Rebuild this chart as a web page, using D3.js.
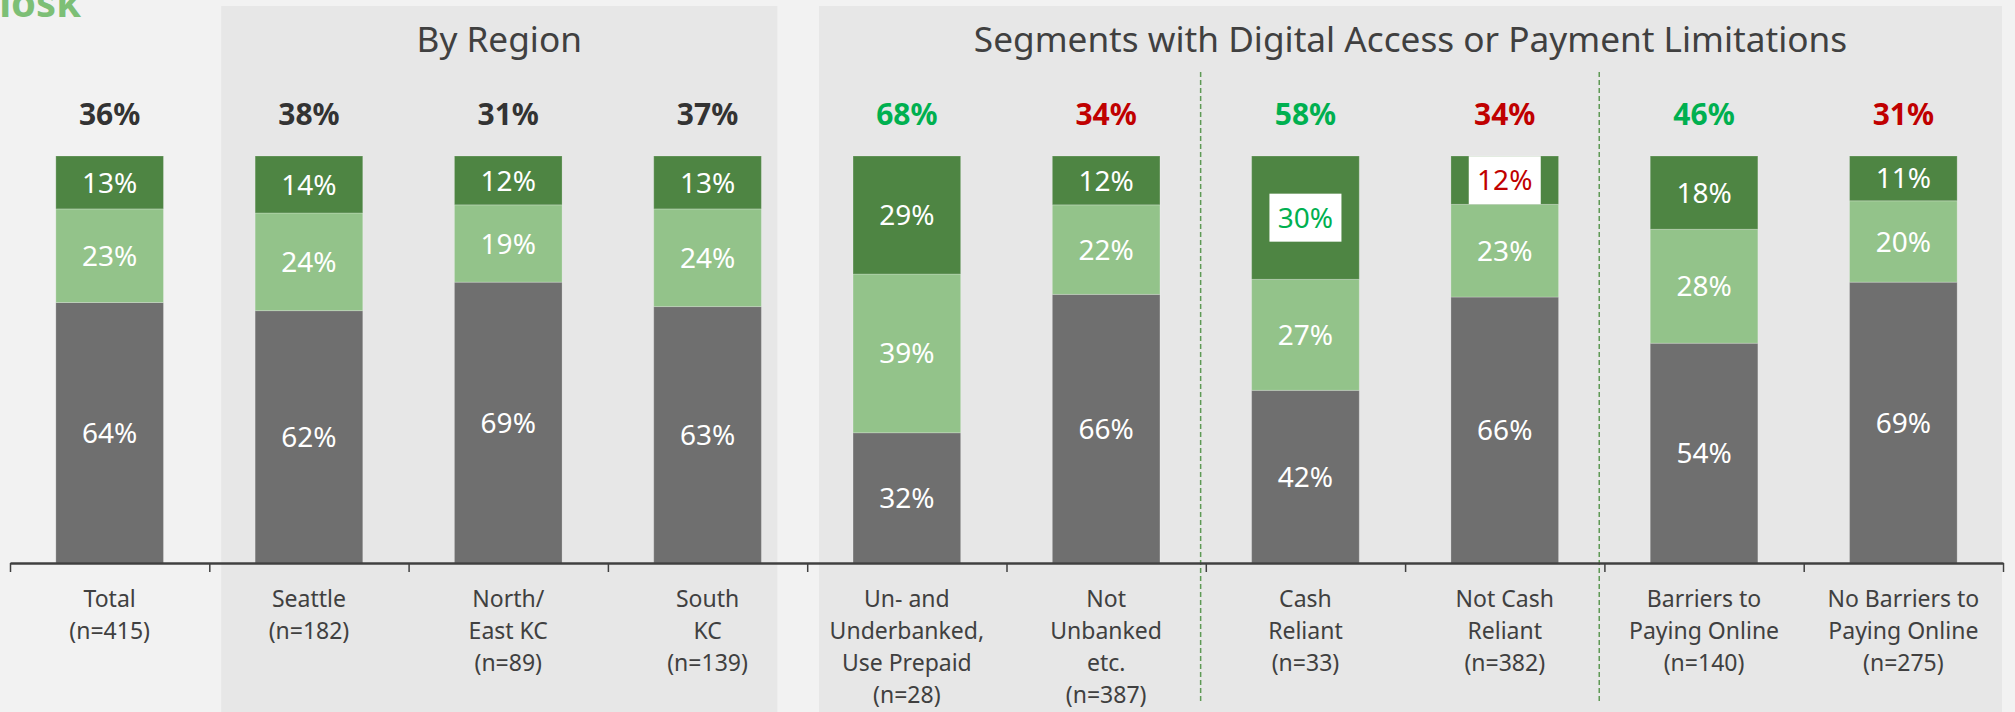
<!DOCTYPE html>
<html>
<head>
<meta charset="utf-8">
<script src="https://cdn.jsdelivr.net/npm/d3@7"></script>
<style>
  html, body { margin: 0; padding: 0; background: #f2f2f2; }
  svg { display: block; font-family: "Noto Sans", "Open Sans", sans-serif; }
</style>
</head>
<body>
<svg id="chart" width="2015" height="712"></svg>
<script>
// ---------- DATA ----------
const categories = ["Total", "Seattle", "North/East KC", "South KC",
  "Un- and Underbanked, Use Prepaid", "Not Unbanked etc.",
  "Cash Reliant", "Not Cash Reliant",
  "Barriers to Paying Online", "No Barriers to Paying Online"];
const categoryLines = [
  ["Total", "(n=415)"],
  ["Seattle", "(n=182)"],
  ["North/", "East KC", "(n=89)"],
  ["South", "KC", "(n=139)"],
  ["Un- and", "Underbanked,", "Use Prepaid", "(n=28)"],
  ["Not", "Unbanked", "etc.", "(n=387)"],
  ["Cash", "Reliant", "(n=33)"],
  ["Not Cash", "Reliant", "(n=382)"],
  ["Barriers to", "Paying Online", "(n=140)"],
  ["No Barriers to", "Paying Online", "(n=275)"]
];
// stacked series (bottom to top)
const seriesNames = ["other", "sometimes", "often"];
const otherValues     = [64, 62, 69, 63, 32, 66, 42, 66, 54, 69];
const sometimesValues = [23, 24, 19, 24, 39, 22, 27, 23, 28, 20];
const oftenValues     = [13, 14, 12, 13, 29, 12, 30, 12, 18, 11];
// headline totals above bars
const totalValues = [36, 38, 31, 37, 68, 34, 58, 34, 46, 31];
const totalTone   = ["neutral", "neutral", "neutral", "neutral", "good", "bad", "good", "bad", "good", "bad"];
// highlighted (boxed) top segment labels
const highlightTone = ["", "", "", "", "", "", "good", "bad", "", ""];
// group panels
const groupTitles = ["By Region", "Segments with Digital Access or Payment Limitations"];
const groupFirst  = ["Seattle", "Un- and Underbanked, Use Prepaid"];
const groupLast   = ["South KC", "No Barriers to Paying Online"];
// dashed separators placed before these categories
const separatorsBefore = ["Cash Reliant", "Barriers to Paying Online"];

// ---------- STYLE ----------
const colors = { other: "#6f6f6f", sometimes: "#93c38a", often: "#4e8543" };
const toneColor = { neutral: "#333333", good: "#00b050", bad: "#c00000" };

// ---------- LAYOUT ----------
const W = 2015, H = 712;
const svg = d3.select("#chart");
const axisLeft = 10, axisRight = 2003, axisY = 563, barTop = 156;

const x = d3.scaleBand().domain(categories).range([axisLeft, axisRight])
  .paddingInner(0.46).paddingOuter(0.23);
const y = d3.scaleLinear().domain([0, 1]).range([axisY, barTop]);
const bw = x.bandwidth();

// Kiosk title fragment (clipped at top-left, as in the original)
svg.append("text").attr("x", 81).attr("y", 17).attr("text-anchor", "end")
  .attr("font-size", 40).attr("font-weight", 700).attr("fill", "#7dbf76")
  .text("Kiosk");

// group panels
groupTitles.forEach((t, i) => {
  const left = x(groupFirst[i]) - 34;
  const right = i === 0 ? x(groupLast[i]) + bw + 16 : axisRight - 1;
  svg.append("rect").attr("x", left).attr("y", 6)
    .attr("width", right - left).attr("height", H - 6).attr("fill", "#e7e7e7");
  svg.append("text").attr("x", (left + right) / 2).attr("y", 52)
    .attr("text-anchor", "middle").attr("font-size", 35.2).attr("fill", "#404040")
    .text(t);
});

// dashed separators
separatorsBefore.forEach(c => {
  const sx = x(c) - 51;
  svg.append("line").attr("x1", sx).attr("x2", sx).attr("y1", 72).attr("y2", 704)
    .attr("stroke", "#5e9a55").attr("stroke-width", 1.5).attr("stroke-dasharray", "5,3");
});

// stacked data
const rows = categories.map((c, i) => {
  const sum = otherValues[i] + sometimesValues[i] + oftenValues[i];
  return { cat: c, other: otherValues[i] / sum, sometimes: sometimesValues[i] / sum, often: oftenValues[i] / sum,
           raw: { other: otherValues[i], sometimes: sometimesValues[i], often: oftenValues[i] }, i };
});
const stack = d3.stack().keys(seriesNames)(rows);

const layers = svg.append("g").selectAll("g").data(stack).join("g")
  .attr("fill", d => colors[d.key]);
layers.selectAll("rect").data(d => d).join("rect")
  .attr("x", d => x(d.data.cat))
  .attr("width", bw)
  .attr("y", d => y(d[1]))
  .attr("height", d => y(d[0]) - y(d[1]))
  .attr("stroke", "rgba(255,255,255,0.22)").attr("stroke-width", 1);

// segment labels
const labG = svg.append("g").attr("font-size", 28).attr("text-anchor", "middle");
stack.forEach(layer => {
  layer.forEach(s => {
    const cx = x(s.data.cat) + bw / 2;
    const cy = (y(s[0]) + y(s[1])) / 2;
    const tone = layer.key === "often" ? highlightTone[s.data.i] : "";
    if (tone) {
      labG.append("rect").attr("x", cx - 36).attr("y", cy - 24)
        .attr("width", 72).attr("height", 48).attr("fill", "#ffffff");
    }
    labG.append("text").attr("x", cx).attr("y", cy).attr("dy", "0.36em")
      .attr("fill", tone ? toneColor[tone] : "#ffffff")
      .text(s.data.raw[layer.key] + "%");
  });
});

// totals above bars
svg.append("g").selectAll("text").data(categories).join("text")
  .attr("x", d => x(d) + bw / 2).attr("y", 125)
  .attr("text-anchor", "middle").attr("font-size", 30).attr("font-weight", 700)
  .attr("fill", (d, i) => toneColor[totalTone[i]])
  .text((d, i) => totalValues[i] + "%");

// axis with ticks at category boundaries
const xb = d3.scaleLinear().domain([0, categories.length]).range([axisLeft, axisRight]);
const axis = svg.append("g").attr("transform", `translate(0,${axisY})`)
  .call(d3.axisBottom(xb).tickValues(d3.range(0, categories.length + 1))
    .tickFormat("").tickSize(9).tickSizeOuter(0));
axis.select(".domain").attr("stroke", "#404040").attr("stroke-width", 2.5);
axis.selectAll(".tick line").attr("stroke", "#404040").attr("stroke-width", 1.5);

// category labels
const catG = svg.append("g").attr("font-size", 23).attr("fill", "#404040").attr("text-anchor", "middle");
categories.forEach((c, i) => {
  const t = catG.append("text").attr("x", x(c) + bw / 2).attr("y", 607);
  categoryLines[i].forEach((ln, j) => {
    t.append("tspan").attr("x", x(c) + bw / 2).attr("y", 607 + j * 32).text(ln);
  });
});
</script>
</body>
</html>
